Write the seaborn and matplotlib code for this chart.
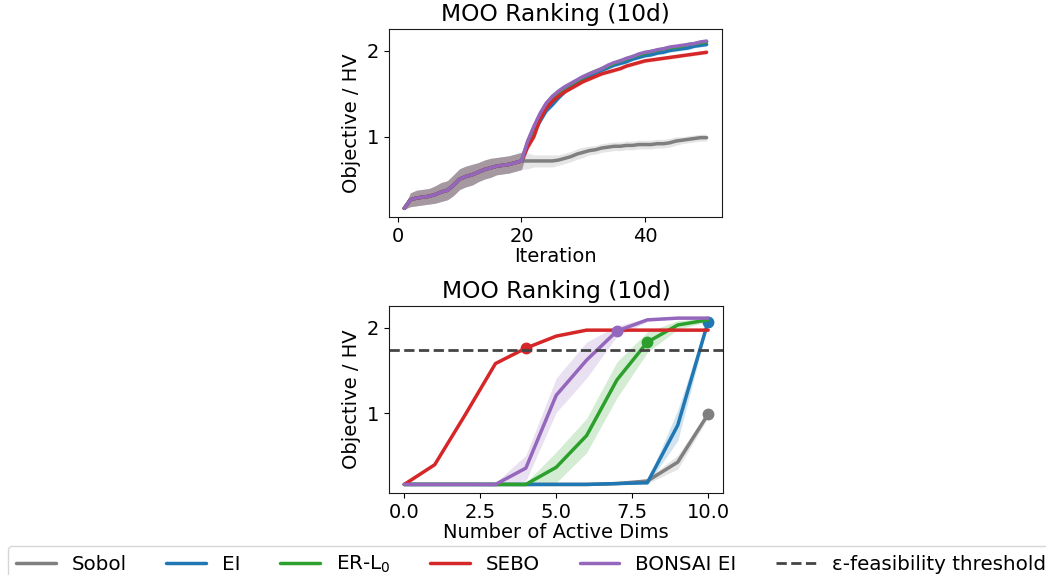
import numpy as np
import pandas as pd
import matplotlib
matplotlib.use("Agg")
import matplotlib.pyplot as plt
import seaborn as sns

# ---------------- data ----------------
methods = ["Sobol", "EI", "ER-L$_0$", "SEBO", "BONSAI EI"]
colors = ["#7f7f7f", "#1f77b4", "#2ca02c", "#d62728", "#9467bd"]

# Top panel: objective / HV per iteration (shared 20-point Sobol initialisation)
iterations = list(range(1, 51))
init_mean = [0.17, 0.27, 0.29, 0.30, 0.31, 0.33, 0.36, 0.38, 0.44, 0.51,
             0.54, 0.56, 0.59, 0.62, 0.64, 0.66, 0.67, 0.68, 0.70, 0.72]
init_err = [0.01, 0.08, 0.09, 0.09, 0.09, 0.10, 0.11, 0.11, 0.12, 0.12,
            0.12, 0.12, 0.11, 0.11, 0.11, 0.10, 0.10, 0.10, 0.10, 0.10]

sobol_iter = [0.72, 0.72, 0.72, 0.72, 0.72, 0.73, 0.75, 0.77, 0.80, 0.82,
              0.84, 0.85, 0.87, 0.88, 0.89, 0.89, 0.90, 0.90, 0.91, 0.91,
              0.91, 0.92, 0.92, 0.93, 0.95, 0.96, 0.97, 0.98, 0.99, 0.99]
ei_iter = [0.90, 1.05, 1.18, 1.30, 1.37, 1.45, 1.52, 1.58, 1.63, 1.67,
           1.70, 1.74, 1.77, 1.80, 1.83, 1.85, 1.87, 1.90, 1.92, 1.94,
           1.95, 1.97, 1.98, 2.00, 2.01, 2.02, 2.03, 2.05, 2.06, 2.07]
erl0_iter = [0.94, 1.10, 1.24, 1.37, 1.45, 1.51, 1.57, 1.61, 1.65, 1.69,
             1.73, 1.76, 1.79, 1.82, 1.85, 1.88, 1.90, 1.93, 1.95, 1.97,
             1.99, 2.00, 2.02, 2.03, 2.04, 2.05, 2.07, 2.08, 2.09, 2.10]
sebo_iter = [0.88, 1.00, 1.20, 1.33, 1.41, 1.47, 1.52, 1.56, 1.60, 1.64,
             1.67, 1.70, 1.73, 1.75, 1.77, 1.79, 1.82, 1.84, 1.86, 1.88,
             1.89, 1.90, 1.91, 1.92, 1.93, 1.94, 1.95, 1.96, 1.97, 1.98]
bonsai_iter = [0.95, 1.12, 1.27, 1.39, 1.47, 1.53, 1.58, 1.62, 1.66, 1.70,
               1.73, 1.76, 1.79, 1.83, 1.86, 1.88, 1.91, 1.93, 1.96, 1.98,
               1.99, 2.01, 2.02, 2.04, 2.05, 2.06, 2.07, 2.08, 2.10, 2.11]

sobol_iter_err = [0.09, 0.07, 0.07, 0.07, 0.07, 0.06, 0.06, 0.06, 0.06, 0.06,
                  0.05, 0.05, 0.05, 0.05, 0.05, 0.05, 0.05, 0.05, 0.05, 0.05,
                  0.05, 0.05, 0.05, 0.05, 0.05, 0.04, 0.04, 0.04, 0.04, 0.04]
bo_iter_err = [0.03, 0.03, 0.03, 0.03, 0.02, 0.02, 0.02, 0.02, 0.02, 0.02,
               0.02, 0.02, 0.02, 0.02, 0.02, 0.02, 0.02, 0.02, 0.02, 0.02,
               0.02, 0.02, 0.02, 0.02, 0.02, 0.02, 0.02, 0.02, 0.02, 0.02]

# Bottom panel: final objective / HV vs. number of active dimensions
active_dims = [0, 1, 2, 3, 4, 5, 6, 7, 8, 9, 10]
sobol_dims = [0.17, 0.17, 0.17, 0.17, 0.17, 0.17, 0.17, 0.18, 0.21, 0.43, 0.99]
ei_dims = [0.17, 0.17, 0.17, 0.17, 0.17, 0.17, 0.17, 0.18, 0.19, 0.86, 2.07]
erl0_dims = [0.17, 0.17, 0.17, 0.17, 0.17, 0.37, 0.74, 1.39, 1.83, 2.03, 2.09]
sebo_dims = [0.17, 0.40, 0.98, 1.58, 1.76, 1.90, 1.97, 1.97, 1.97, 1.97, 1.97]
bonsai_dims = [0.17, 0.17, 0.17, 0.17, 0.36, 1.21, 1.62, 1.96, 2.09, 2.11, 2.11]

sobol_dims_err = [0.01, 0.01, 0.01, 0.01, 0.01, 0.01, 0.01, 0.01, 0.03, 0.08, 0.04]
ei_dims_err = [0.01, 0.01, 0.01, 0.01, 0.01, 0.01, 0.01, 0.01, 0.02, 0.18, 0.03]
erl0_dims_err = [0.01, 0.01, 0.01, 0.01, 0.02, 0.18, 0.20, 0.21, 0.12, 0.05, 0.02]
sebo_dims_err = [0.01, 0.01, 0.01, 0.01, 0.01, 0.01, 0.01, 0.01, 0.01, 0.01, 0.01]
bonsai_dims_err = [0.01, 0.01, 0.01, 0.02, 0.15, 0.20, 0.21, 0.06, 0.02, 0.01, 0.01]

# index at which each method first reaches the threshold
crossing_idx = [10, 10, 8, 4, 7]
threshold = 1.74

# ---------------- styling ----------------
sns.set_style("ticks")
plt.rcParams["font.family"] = ["DejaVu Sans"]
plt.rcParams["font.size"] = 14
plt.rcParams["axes.titlesize"] = "large"
for key in ("text.color", "axes.labelcolor", "xtick.color", "ytick.color"):
    plt.rcParams[key] = "black"
plt.rcParams["axes.edgecolor"] = "0.1"

fig = plt.figure(figsize=(10.46, 5.75), dpi=100)
ax_top = fig.add_axes([0.372, 0.6226, 0.318, 0.327])
ax_bot = fig.add_axes([0.372, 0.1426, 0.3195, 0.325])

iter_means = [
    init_mean + sobol_iter,
    init_mean + ei_iter,
    init_mean + erl0_iter,
    init_mean + sebo_iter,
    init_mean + bonsai_iter,
]
iter_errs = [
    init_err + sobol_iter_err,
    init_err + bo_iter_err,
    init_err + bo_iter_err,
    init_err + bo_iter_err,
    init_err + bo_iter_err,
]
dims_means = [sobol_dims, ei_dims, erl0_dims, sebo_dims, bonsai_dims]
dims_errs = [sobol_dims_err, ei_dims_err, erl0_dims_err, sebo_dims_err, bonsai_dims_err]

lw = 2.5
x_it = np.array(iterations)
x_d = np.array(active_dims)

for name, c, m, e in zip(methods, colors, iter_means, iter_errs):
    m = np.array(m); e = np.array(e)
    ax_top.fill_between(x_it, m - e, m + e, color=c, alpha=0.2, linewidth=0)
    df = pd.DataFrame({"Iteration": x_it, "value": m})
    sns.lineplot(data=df, x="Iteration", y="value", color=c, linewidth=lw, ax=ax_top)

for name, c, m, e, k in zip(methods, colors, dims_means, dims_errs, crossing_idx):
    m = np.array(m); e = np.array(e)
    ax_bot.fill_between(x_d, m - e, m + e, color=c, alpha=0.2, linewidth=0)
    df = pd.DataFrame({"dims": x_d, "value": m})
    sns.lineplot(data=df, x="dims", y="value", color=c, linewidth=lw, ax=ax_bot,
                 label=name)
    ax_bot.plot([x_d[k]], [m[k]], "o", color=c, markersize=7.5)

ax_bot.axhline(threshold, color="#444444", linestyle="--", linewidth=2,
               label="ε-feasibility threshold")

for ax in (ax_top, ax_bot):
    ax.set_title("MOO Ranking (10d)")
    ax.set_ylabel("Objective / HV")
    ax.set_yticks([1, 2])
    ax.set_ylim(0.07, 2.25)

ax_top.set_xlabel("Iteration", labelpad=1)
ax_top.set_xticks([0, 20, 40])
ax_bot.set_xlabel("Number of Active Dims", labelpad=1)
ax_bot.set_xticks([0.0, 2.5, 5.0, 7.5, 10.0])
ax_bot.set_xticklabels(["0.0", "2.5", "5.0", "7.5", "10.0"])

handles, labels = ax_bot.get_legend_handles_labels()
ax_bot.get_legend().remove()
fig.legend(handles, labels, loc="upper left", ncol=6,
           bbox_to_anchor=(8 / 1046, 1 - 546 / 575), borderaxespad=0,
           fontsize=14.3, frameon=True)

fig.savefig("out.png", dpi=100)
